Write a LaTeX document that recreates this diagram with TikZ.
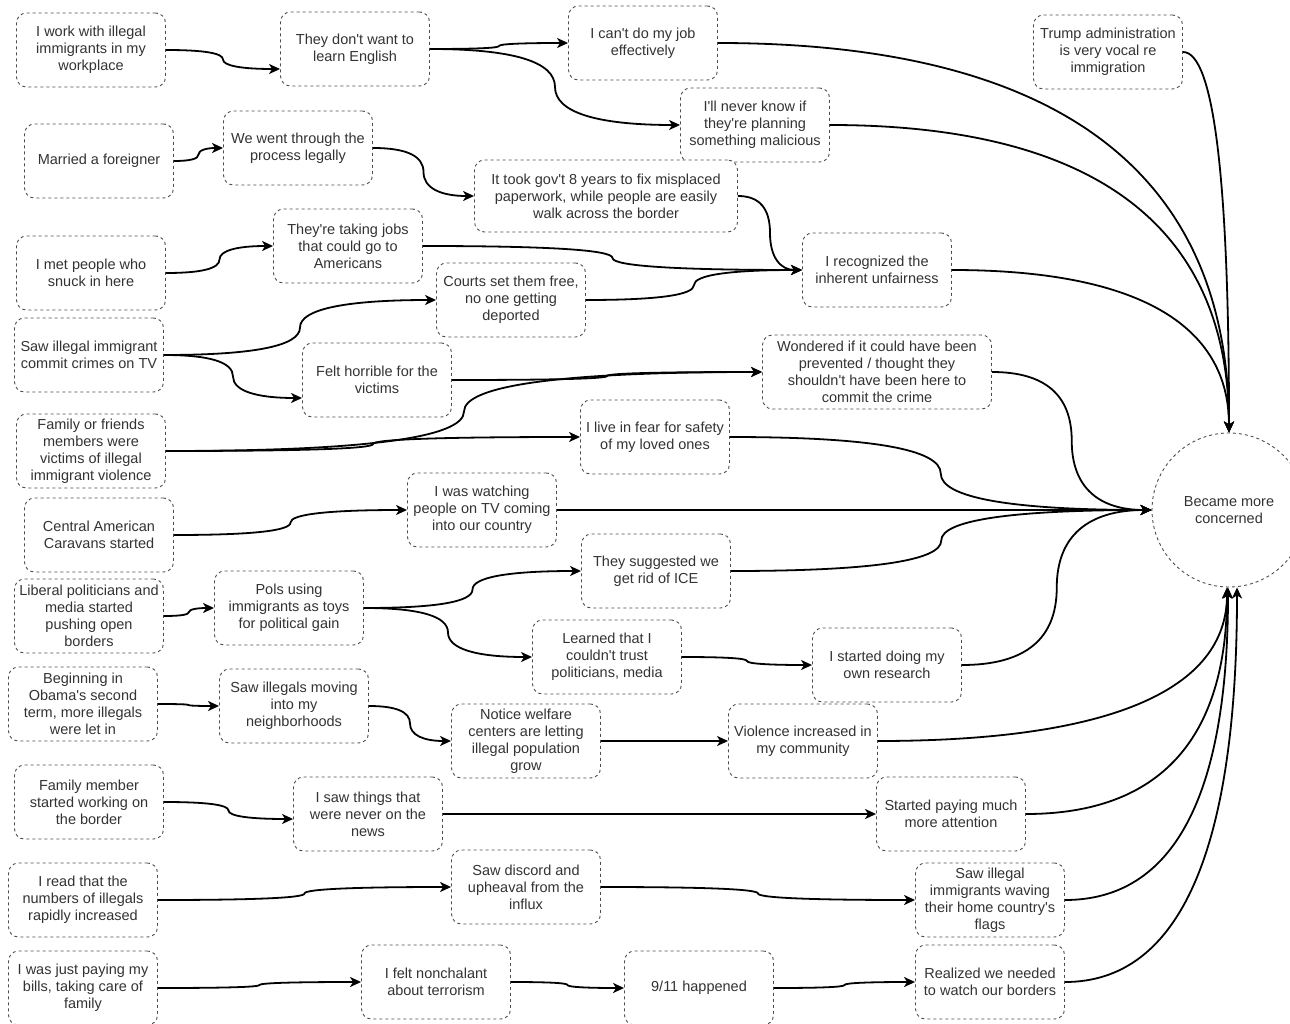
\documentclass[tikz,border=0pt]{standalone}
\usepackage{fontspec}
\setmainfont{Liberation Sans}[Ligatures=TeXOff]
\usetikzlibrary{arrows.meta,calc}
\definecolor{txt}{HTML}{333333}
\definecolor{bord}{HTML}{4D4D4D}
\begin{document}
\begin{tikzpicture}[x=1pt,y=1pt,
  box/.style={draw=bord, line width=0.9pt, dash pattern=on 3pt off 3pt, rounded corners=10pt,
    fill=white, text=txt, align=center, minimum width=149pt, minimum height=74pt, inner sep=0pt,
    font=\fontsize{14.5}{17}\selectfont},
  conc/.style={draw=bord, line width=0.9pt, dash pattern=on 3pt off 3pt, circle, fill=white,
    text=txt, align=center, minimum size=154pt, inner sep=0pt, font=\fontsize{14.5}{17}\selectfont},
  ar/.style={draw=black, line width=1.8pt, -{Stealth[length=11pt,width=10pt,inset=3pt]}},
  sc/.style={to path={let \p1=(\tikztostart), \p2=(\tikztotarget),
      \n1={0.5*(\x1+\x2)}, \n2={0.5*(\y1+\y2)} in
      .. controls ({\x1+0.6667*(\n1-\x1)},\y1) and (\n1,{\n2+0.6667*(\y1-\n2)}) .. (\n1,\n2)
      .. controls (\n1,{\n2+0.6667*(\y2-\n2)}) and ({\x2+0.6667*(\n1-\x2)},\y2) .. (\p2)}},
  lc/.style={to path={let \p1=(\tikztostart), \p2=(\tikztotarget) in
      .. controls ({\x1+0.6667*(\x2-\x1)},\y1) and (\x2,{\y2+0.6667*(\y1-\y2)}) .. (\p2)}}
]
\useasboundingbox (0,0) rectangle (1290,-1024);
\clip (0,0) rectangle (1290,-1024);

% nodes
\node[box] (A1) at (91,-50) {I work with illegal\\immigrants in my\\workplace};
\node[box] (A2) at (355,-49) {They don't want to\\learn English};
\node[box] (A3) at (643,-43) {I can't do my job\\effectively};
\node[box] (A4) at (755,-125) {I'll never know if\\they're planning\\something malicious};
\node[box] (T) at (1108,-52) {Trump administration\\is very vocal re\\immigration};
\node[box] (B1) at (99,-161) {Married a foreigner};
\node[box] (B2) at (298,-148) {We went through the\\process legally};
\node[box, minimum width=263pt, minimum height=72pt] (B3) at (606,-196) {It took gov't 8 years to fix misplaced\\paperwork, while people are easily\\walk across the border};
\node[box] (C1) at (91,-273) {I met people who\\snuck in here};
\node[box] (C2) at (348,-246) {They're taking jobs\\that could go to\\Americans};
\node[box] (D2) at (511,-300) {Courts set them free,\\no one getting\\deported};
\node[box] (R) at (877,-270) {I recognized the\\inherent unfairness};
\node[box] (D1) at (89,-355) {Saw illegal immigrant\\commit crimes on TV};
\node[box] (D3) at (377,-380) {Felt horrible for the\\victims};
\node[box, minimum width=229pt] (W) at (877,-372) {Wondered if it could have been\\prevented / thought they\\shouldn't have been here to\\commit the crime};
\node[box] (E1) at (91,-451) {Family or friends\\members were\\victims of illegal\\immigrant violence};
\node[box] (E2) at (655,-437) {I live in fear for safety\\of my loved ones};
\node[box] (F1) at (99,-535) {Central American\\Caravans started};
\node[box] (F2) at (482,-510) {I was watching\\people on TV coming\\into our country};
\node[box] (G1) at (89,-616) {Liberal politicians and\\media started\\pushing open\\borders};
\node[box] (G2) at (289,-608) {Pols using\\immigrants as toys\\for political gain};
\node[box] (G3) at (656,-571) {They suggested we\\get rid of ICE};
\node[box] (G4) at (607,-657) {Learned that I\\couldn't trust\\politicians, media};
\node[box] (G5) at (887,-665) {I started doing my\\own research};
\node[box] (H1) at (83,-704) {Beginning in\\Obama's second\\term, more illegals\\were let in};
\node[box] (H2) at (294,-706) {Saw illegals moving\\into my\\neighborhoods};
\node[box] (H3) at (526,-741) {Notice welfare\\centers are letting\\illegal population\\grow};
\node[box] (H4) at (803,-741) {Violence increased in\\my community};
\node[box] (I1) at (89,-802) {Family member\\started working on\\the border};
\node[box] (I2) at (368,-814) {I saw things that\\were never on the\\news};
\node[box] (I3) at (951,-814) {Started paying much\\more attention};
\node[box] (J1) at (83,-900) {I read that the\\numbers of illegals\\rapidly increased};
\node[box] (J2) at (526,-887) {Saw discord and\\upheaval from the\\influx};
\node[box] (J3) at (990,-900) {Saw illegal\\immigrants waving\\their home country's\\flags};
\node[box] (K1) at (83,-988) {I was just paying my\\bills, taking care of\\family};
\node[box] (K2) at (436,-982) {I felt nonchalant\\about terrorism};
\node[box] (K3) at (699,-988) {9/11 happened};
\node[box] (K4) at (990,-982) {Realized we needed\\to watch our borders};
\node[conc] (X) at (1229,-510) {Became more\\concerned};

% connectors
\draw[ar] (A1.east) to[sc] ([yshift=-20pt]A2.west);
\draw[ar] (A2.east) to[sc] (A3.west);
\draw[ar] (A2.east) to[sc] (A4.west);
\draw[ar] (A3.east) to[lc] (X.north);
\draw[ar] (A4.east) to[lc] (X.north);
\draw[ar] (T.east) to[lc] (X.north);
\draw[ar] (R.east) to[lc] (X.north);
\draw[ar] (B1.east) to[sc] (B2.west);
\draw[ar] (B2.east) to[sc] (B3.west);
\draw[ar] (B3.east) to[sc] (R.west);
\draw[ar] (C1.east) to[sc] (C2.west);
\draw[ar] (C2.east) to[sc] (R.west);
\draw[ar] (D2.east) to[sc] (R.west);
\draw[ar] (D1.east) to[sc] (D2.west);
\draw[ar] (D1.east) to[sc] ([yshift=-18pt]D3.west);
\draw[ar] (D3.east) to[sc] (W.west);
\draw[ar] (E1.east) to[sc] (W.west);
\draw[ar] (E1.east) to[sc] (E2.west);
\draw[ar] (W.east) to[sc] (X.west);
\draw[ar] (E2.east) to[sc] (X.west);
\draw[ar] (F1.east) to[sc] (F2.west);
\draw[ar] (F2.east) to[sc] (X.west);
\draw[ar] (G1.east) to[sc] (G2.west);
\draw[ar] (G2.east) to[sc] (G3.west);
\draw[ar] (G2.east) to[sc] (G4.west);
\draw[ar] (G3.east) to[sc] (X.west);
\draw[ar] (G4.east) to[sc] (G5.west);
\draw[ar] (G5.east) to[sc] (X.west);
\draw[ar] (H1.east) to[sc] (H2.west);
\draw[ar] (H2.east) to[sc] (H3.west);
\draw[ar] (H3.east) to[sc] (H4.west);
\draw[ar] (H4.east) to[lc] ([xshift=-2pt]X.south);
\draw[ar] (I1.east) to[sc] ([yshift=-5pt]I2.west);
\draw[ar] (I2.east) to[sc] (I3.west);
\draw[ar] (I3.east) to[lc] ([xshift=-2pt]X.south);
\draw[ar] (J1.east) to[sc] (J2.west);
\draw[ar] (J2.east) to[sc] (J3.west);
\draw[ar] (J3.east) to[lc] ([xshift=-1pt]X.south);
\draw[ar] (K1.east) to[sc] (K2.west);
\draw[ar] (K2.east) to[sc] (K3.west);
\draw[ar] (K3.east) to[sc] (K4.west);
\draw[ar] (K4.east) to[lc] ([xshift=8pt]X.south);
\end{tikzpicture}
\end{document}
